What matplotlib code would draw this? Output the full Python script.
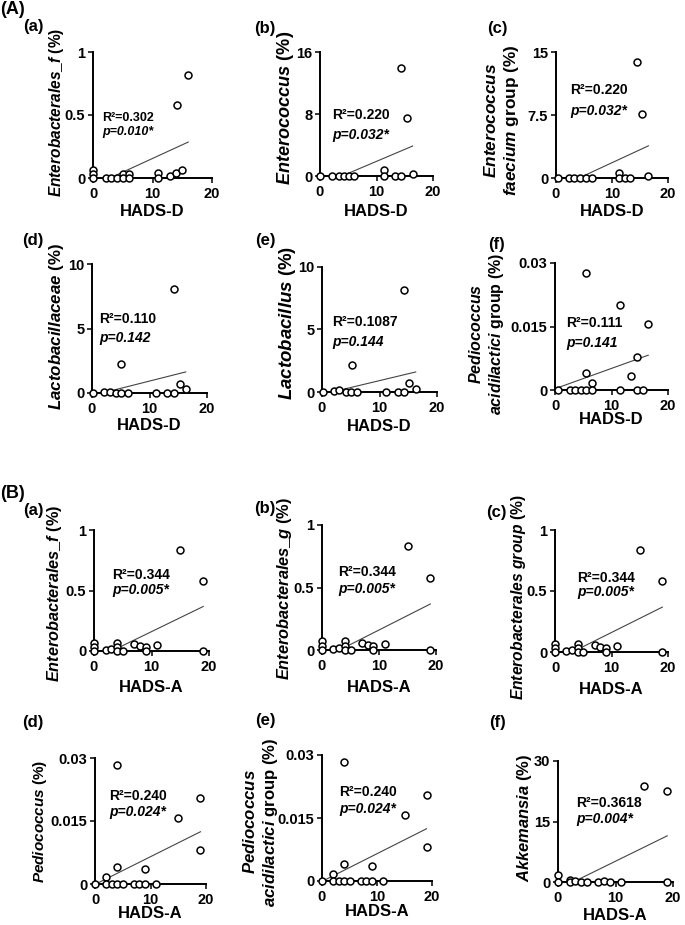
import numpy as np
import matplotlib
matplotlib.use("Agg")
import matplotlib.pyplot as plt
from matplotlib.transforms import ScaledTranslation

plt.rcParams['font.family'] = ['Liberation Sans', 'DejaVu Sans']
plt.rcParams['font.weight'] = 'bold'
plt.rcParams['mathtext.fontset'] = 'custom'
plt.rcParams['mathtext.it'] = 'Liberation Sans:italic:bold'
plt.rcParams['mathtext.rm'] = 'Liberation Sans:bold'
plt.rcParams['mathtext.bf'] = 'Liberation Sans:bold'

# ---------------- data ----------------
# (A) HADS-D panels
Aa_x = [0, 0, 0, 2.2, 3.1, 4.1, 5.1, 5.1, 6, 6, 11, 11, 12.9, 14, 15, 14.1, 16]
Aa_y = [0.065, 0.03, 0, 0, 0, 0, 0.03, 0, 0.03, 0, 0.04, 0, 0.016, 0.04, 0.06, 0.58, 0.82]
Aa_fit = [0.0217, -0.062]          # slope, intercept

Ab_x = [0, 2.2, 3.3, 4.2, 5.1, 6.0, 11.4, 11.4, 13.2, 14.3, 14.4, 15.4, 16.4]
Ab_y = [0, 0, 0, 0, 0, 0, 0.73, 0, 0, 0, 14.0, 7.5, 0.2]
Ab_fit = [0.309, -1.2]

Ac_x = [0.4, 2.4, 3.3, 4.3, 5.3, 6.4, 11.3, 11.3, 12.4, 13.3, 14.4, 15.4, 16.5]
Ac_y = [0, 0, 0, 0, 0, 0, 0.64, 0, 0, 0, 13.8, 7.66, 0.2]
Ac_fit = [0.309, -1.27]

Ad_x = [0.2, 2.1, 3.1, 4.1, 5.1, 6.2, 5.1, 11.1, 13.0, 14.2, 14.3, 15.3, 16.3]
Ad_y = [0, 0.08, 0.08, 0, 0, 0, 2.23, 0, 0, 0, 8.08, 0.7, 0.29]
Ad_fit = [0.1125, -0.2]

Ae_x = [0.1, 2.0, 3.0, 4.1, 5.1, 6.1, 5.2, 11.2, 13.2, 14.2, 14.2, 15.2, 16.3]
Ae_y = [0, 0.08, 0.13, 0, 0, 0, 2.19, 0, 0, 0, 8.13, 0.72, 0.21]
Ae_fit = [0.11, -0.19]

Af_x = [0.6, 2.6, 3.6, 4.6, 5.5, 5.5, 5.5, 6.5, 6.5, 11.5, 11.5, 13.5, 14.5, 14.5, 15.6, 16.5]
Af_y = [0, 0, 0, 0, 0, 0.00395, 0.0276, 0.0016, 0, 0.020, 0, 0.0033, 0.0079, 0, 0, 0.01555]
Af_fit = [0.00048, 0.0003]

# (B) HADS-A panels
Babc_x = [0, 0, 0, 2, 3, 4, 4, 4, 5, 7, 8, 9, 9, 11, 15, 19, 19]
Babc_y = [0.069, 0.036, 0, 0.008, 0.014, 0.069, 0.036, 0, 0, 0.058, 0.041, 0.036, 0, 0.05, 0.835, 0.58, 0]
Babc_fit = [0.0231, -0.071]

Bde_x = [0, 2, 2, 3, 4, 5, 4, 4, 7, 8, 9, 9, 11, 15, 19, 19]
Bde_y = [0, 0.00175, 0, 0, 0, 0, 0.0041, 0.0283, 0, 0, 0, 0.0036, 0, 0.0158, 0.0205, 0.0081]
Bde_fit = [0.00066, -0.0001]

Bf_x = [0, 0, 2, 2, 3, 4, 5, 7, 8, 9, 11, 15, 19, 19]
Bf_y = [1.65, 0, 0.58, 0, 0.25, 0, 0, 0, 0.25, 0, 0, 23.7, 22.5, 0]
Bf_fit = [0.70, -1.85]

ylabels = [
    r"$\mathit{Enterobacterales\_f}$ (%)",
    r"$\mathit{Enterococcus}$ (%)",
    "$\\mathit{Enterococcus}$\n$\\mathit{faecium}$ group (%)",
    r"$\mathit{Lactobacillaceae}$ (%)",
    r"$\mathit{Lactobacillus}$ (%)",
    "$\\mathit{Pediococcus}$\n$\\mathit{acidilactici}$ group (%)",
    r"$\mathit{Enterobacterales\_f}$ (%)",
    r"$\mathit{Enterobacterales\_g}$ (%)",
    r"$\mathit{Enterobacterales\ group}$ (%)",
    r"$\mathit{Pediococcus}$ (%)",
    "$\\mathit{Pediococcus}$\n$\\mathit{acidilactici}$ group (%)",
    r"$\mathit{Akkemansia}$ (%)",
]
xlabels = ["HADS-D"] * 6 + ["HADS-A"] * 6
r2_texts = ["R²=0.302", "R²=0.220", "R²=0.220", "R²=0.110", "R²=0.1087", "R²=0.111",
            "R²=0.344", "R²=0.344", "R²=0.344", "R²=0.240", "R²=0.240", "R²=0.3618"]
p_texts = ["p=0.010*", "p=0.032*", "p=0.032*", "p=0.142", "p=0.144", "p=0.141",
           "p=0.005*", "p=0.005*", "p=0.005*", "p=0.024*", "p=0.024*", "p=0.004*"]
yticks = [[0, 0.5, 1], [0, 8, 16], [0, 7.5, 15], [0, 5, 10], [0, 5, 10], [0, 0.015, 0.03],
          [0, 0.5, 1], [0, 0.5, 1], [0, 0.5, 1], [0, 0.015, 0.03], [0, 0.015, 0.03], [0, 15, 30]]
ytick_labels = [["0", "0.5", "1"], ["0", "8", "16"], ["0", "7.5", "15"], ["0", "5", "10"],
                ["0", "5", "10"], ["0", "0.015", "0.03"], ["0", "0.5", "1"], ["0", "0.5", "1"],
                ["0", "0.5", "1"], ["0", "0.015", "0.03"], ["0", "0.015", "0.03"], ["0", "15", "30"]]
xticks = [0, 10, 20]
panel_letters = ["(a)", "(b)", "(c)", "(d)", "(e)", "(f)"] * 2

series = [(Aa_x, Aa_y, Aa_fit), (Ab_x, Ab_y, Ab_fit), (Ac_x, Ac_y, Ac_fit),
          (Ad_x, Ad_y, Ad_fit), (Ae_x, Ae_y, Ae_fit), (Af_x, Af_y, Af_fit),
          (Babc_x, Babc_y, Babc_fit), (Babc_x, Babc_y, Babc_fit), (Babc_x, Babc_y, Babc_fit),
          (Bde_x, Bde_y, Bde_fit), (Bde_x, Bde_y, Bde_fit), (Bf_x, Bf_y, Bf_fit)]

# ---------------- layout (pixels) ----------------
W, H = 685, 925
# left, right, top, bottom of each axes box
boxes = [(93, 212, 52, 178), (320, 433, 52, 176), (556, 668, 52, 178),
         (92, 207, 264, 393), (322, 437, 267, 392), (555, 668, 263, 390),
         (94, 209, 530, 651), (322, 436, 525, 650), (555, 668, 530, 652),
         (95, 206, 758, 884), (322, 432, 755, 881), (558, 673, 761, 882)]
ylabel_dx = [-36, -35, -54, -35, -34, -68, -39, -37, -37, -55, -61, -33]
ylabel_yf = [0.52, 0.55, 0.46, 0.515, 0.556, 0.44, 0.475, 0.49, 0.447, 0.5, 0.47, 0.53]
ylabel_len = [170, 154, 152, 167, 155, 162, 177, 182, 205, 123, 170, 128]
xlabel_dy = [33, 35, 33, 33, 34, 30, 36, 37, 38, 30, 31, 33]
stat_pos = [(0.076, 0.476), (0.106, 0.49), (0.125, 0.70), (0.06, 0.57), (0.09, 0.56), (0.10, 0.53),
            (0.155, 0.63), (0.14, 0.62), (0.195, 0.61), (0.126, 0.70), (0.155, 0.71), (0.157, 0.65)]
stat_gap = [14, 20, 21, 19, 20, 20, 15, 16, 14, 16, 17, 16]
stat_fs = [9, 10, 10, 10, 10, 10, 10, 10, 10, 10, 10, 10]
letter_pos = [(33, 27), (265, 28), (497, 28), (33, 241), (265, 241), (496, 244),
              (33, 510), (265, 508), (496, 512), (33, 723), (265, 720), (497, 723)]

fig = plt.figure(figsize=(W / 100, H / 100), dpi=100)
axes = []

for i in range(12):
    l, r, t, b = boxes[i]
    ax = fig.add_axes([l / W, 1 - b / H, (r - l) / W, (b - t) / H])
    axes.append(ax)
    x, y, fit = series[i]
    ytop = yticks[i][-1]
    ax.set_xlim(0, 20)
    ax.set_ylim(0, ytop)
    for s in ["top", "right"]:
        ax.spines[s].set_visible(False)
    for s in ["left", "bottom"]:
        ax.spines[s].set_linewidth(1.4)
    ax.tick_params(width=1.1, length=3.6, labelsize=10.5, pad=2)
    ax.tick_params(axis="x", pad=3)
    ax.set_xticks(xticks)
    ax.set_xticklabels([str(v) for v in xticks])
    ax.set_yticks(yticks[i])
    ax.set_yticklabels(ytick_labels[i])

    xs = np.array([min(x), max(x)])
    ax.plot(xs, fit[0] * xs + fit[1], color="#444444", lw=0.8, zorder=3)
    ax.plot(x, y, "o", ms=5, mfc="white", mec="black", mew=1.1,
            clip_on=False, zorder=5, linestyle="none")

    ax.set_ylabel(ylabels[i], fontsize=12, fontweight="bold")
    ax.yaxis.label.set_va("center")
    ax.yaxis.set_label_coords(ylabel_dx[i] / (r - l), ylabel_yf[i])
    ax.set_xlabel(xlabels[i], fontsize=12, fontweight="bold")
    ax.xaxis.label.set_va("center")
    ax.xaxis.set_label_coords(0.5, -xlabel_dy[i] / (b - t))

    sx, sy = stat_pos[i]
    ax.text(sx, sy, r2_texts[i], transform=ax.transAxes, ha="left", va="center",
            fontsize=stat_fs[i], fontweight="bold")
    off = ScaledTranslation(0, -stat_gap[i] / 100, fig.dpi_scale_trans)
    ax.text(sx, sy, p_texts[i], transform=ax.transAxes + off, ha="left", va="center",
            fontsize=stat_fs[i], fontweight="bold", fontstyle="italic")

    lx, ly = letter_pos[i]
    fig.text(lx / W, 1 - ly / H, panel_letters[i], ha="center", va="center",
             fontsize=12, fontweight="bold")

fig.text(12 / W, 1 - 10 / H, "(A)", ha="center", va="center", fontsize=13, fontweight="bold")
fig.text(12 / W, 1 - 493 / H, "(B)", ha="center", va="center", fontsize=13, fontweight="bold")

# scale each y-axis title so that its length matches the reference
renderer = fig.canvas.get_renderer()
for i, ax in enumerate(axes):
    lab = ax.yaxis.label
    for _ in range(2):
        bb = lab.get_window_extent(renderer)
        lab.set_fontsize(lab.get_fontsize() * ylabel_len[i] / bb.height)

fig.savefig("out.png", dpi=100, facecolor="white")
